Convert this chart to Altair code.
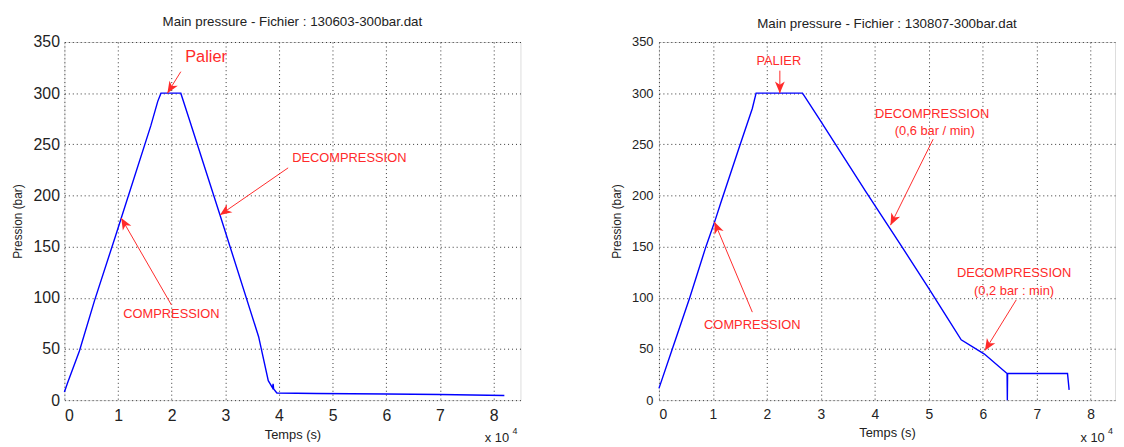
import math
import altair as alt
import pandas as pd

# ---------------- data (time in units of 1e4 s, pressure in bar) ----------------
left_t = [0, 0.06, 0.28, 0.56, 0.95, 1.06, 1.61, 1.74, 1.80, 2.17, 2.33, 2.90, 3.62, 3.80, 3.88, 3.89, 3.90, 3.96, 4.70, 6.00, 7.00, 8.20]
left_p = [8, 17, 48, 97, 160, 178, 268, 292, 300, 300, 274, 181, 62, 19, 12, 16, 11, 7, 6.5, 6, 5.5, 4.5]

right_t = [0, 0.26, 0.57, 0.87, 1.03, 1.14, 1.48, 1.73, 1.80, 2.66, 2.97, 3.83, 4.50, 4.99, 5.30, 5.60, 6.03, 6.45, 6.455, 6.46, 7.57, 7.60]
right_p = [11.5, 52, 100, 150, 174, 192, 246, 285, 300, 300, 275, 204, 150, 110, 84, 59, 45, 26, 0, 26, 26, 10]

left_title = "Main pressure - Fichier : 130603-300bar.dat"
right_title = "Main pressure - Fichier : 130807-300bar.dat"

# annotations (text, x, y, font size)
left_lbl = ["Palier", "DECOMPRESSION", "COMPRESSION"]
left_lbl_x = [2.64, 5.31, 1.995]
left_lbl_y = [335, 237, 84]
left_lbl_size = [16.5, 13, 13]

left_arr_x = [2.17, 4.17, 1.995]
left_arr_y = [321, 227, 93]
left_arr_xt = [1.92, 2.90, 1.06]
left_arr_yt = [300, 181, 178]

right_lbl = ["PALIER", "DECOMPRESSION", "(0,6 bar / min)", "DECOMPRESSION", "(0,2 bar : min)", "COMPRESSION"]
right_lbl_x = [2.22, 5.06, 5.11, 6.58, 6.58, 1.73]
right_lbl_y = [331, 280, 263, 124, 107, 73]
right_lbl_size = [13, 13, 13, 13, 13, 13]

right_arr_x = [2.24, 5.08, 6.62, 1.73]
right_arr_y = [322, 255, 98, 86]
right_arr_xt = [2.24, 4.29, 6.04, 1.03]
right_arr_yt = [300, 171, 48.5, 174]

x_ticks = [0, 1, 2, 3, 4, 5, 6, 7, 8]
y_ticks = [0, 50, 100, 150, 200, 250, 300, 350]

W, H = 461, 362
YMAX = 350
FONT = "Liberation Sans"
RED = "#ff2a2a"
BLUE = "#0000ff"
ARROW = "M0,0L-0.42,1L0,0.72L0.42,1Z"


def panel(t, p, title, lbl, lx, ly, ls, ax, ay, axt, ayt, tick_fs, ytick_fs, lab_pad, title_pad, exp_x, xmax):
    df = pd.DataFrame({"t": t, "p": p})
    xs = alt.Scale(domain=[0, xmax], nice=False, zero=False)
    ys = alt.Scale(domain=[0, YMAX], nice=False)
    xax = alt.Axis(values=x_ticks, format="d", title="Temps (s)", grid=True, gridDash=[1, 3],
                   gridColor="#333", gridOpacity=1, ticks=False, domain=False,
                   labelFontSize=tick_fs, labelFont=FONT, labelColor="#222", labelPadding=8,
                   titleFontSize=13, titleFont=FONT, titleFontWeight="normal", titleColor="#222",
                   titlePadding=5)
    yax = alt.Axis(values=y_ticks, title="Pression (bar)", grid=True, gridDash=[1, 3],
                   gridColor="#333", gridOpacity=1, ticks=False, domain=False,
                   labelFontSize=ytick_fs, labelFont=FONT, labelColor="#222", labelPadding=lab_pad,
                   titleFontSize=12, titleFont=FONT, titleFontWeight="normal", titleColor="#222",
                   titlePadding=title_pad)
    line = alt.Chart(df).mark_line(color=BLUE, strokeWidth=1.4).encode(
        x=alt.X("t:Q", scale=xs, axis=xax),
        y=alt.Y("p:Q", scale=ys, axis=yax),
        order=alt.Order("idx:Q"),
    ).transform_window(idx="row_number()")

    dl = pd.DataFrame({"txt": lbl, "x": lx, "y": ly, "s": ls})
    texts = alt.Chart(dl).mark_text(color=RED, font=FONT, baseline="middle", align="center").encode(
        x=alt.X("x:Q", scale=xs), y=alt.Y("y:Q", scale=ys), text="txt:N",
        size=alt.Size("s:Q", scale=None, legend=None))

    ang = []
    for x0, y0, x1, y1 in zip(ax, ay, axt, ayt):
        dx = (x1 - x0) * W / xmax
        dy = -(y1 - y0) * H / YMAX
        ang.append(math.degrees(math.atan2(dx, -dy)) % 360)
    da = pd.DataFrame({"x": ax, "y": ay, "xt": axt, "yt": ayt, "a": ang})
    rules = alt.Chart(da).mark_rule(color=RED, strokeWidth=1).encode(
        x=alt.X("x:Q", scale=xs), y=alt.Y("y:Q", scale=ys), x2="xt:Q", y2="yt:Q")
    heads = alt.Chart(da).mark_point(shape=ARROW, filled=True, color=RED, opacity=1, size=560,
                                     strokeWidth=0).encode(
        x=alt.X("xt:Q", scale=xs), y=alt.Y("yt:Q", scale=ys), angle=alt.Angle("a:Q", scale=None))

    de = pd.DataFrame({"a": ["x 10"], "b": ["4"]})
    exp1 = alt.Chart(de).mark_text(font=FONT, fontSize=13, color="#222", align="left", baseline="middle").encode(
        x=alt.value(exp_x), y=alt.value(H + 38), text="a:N")
    exp2 = alt.Chart(de).mark_text(font=FONT, fontSize=9, color="#222", align="left", baseline="middle").encode(
        x=alt.value(exp_x + 28), y=alt.value(H + 31), text="b:N")

    return alt.layer(line, rules, heads, texts, exp1, exp2).properties(
        width=W, height=H,
        title=alt.Title(title, fontSize=13.5, font=FONT, fontWeight="normal", color="#222",
                        offset=6, anchor="middle", frame="group"))


left = panel(left_t, left_p, left_title, left_lbl, left_lbl_x, left_lbl_y, left_lbl_size,
             left_arr_x, left_arr_y, left_arr_xt, left_arr_yt, 16, 16, 5, 9, W - 36, 8.5)
right = panel(right_t, right_p, right_title, right_lbl, right_lbl_x, right_lbl_y, right_lbl_size,
              right_arr_x, right_arr_y, right_arr_xt, right_arr_yt, 14, 13, 6, 8, W - 35, 8.45)

chart = alt.hconcat(left, right, spacing=89).properties(
    padding={"left": 2, "top": 4, "right": 0, "bottom": 0}
).configure_view(stroke="#333", strokeWidth=1).configure(background="white")

chart.save("out.html", embed_options={"renderer": "svg", "actions": False})
